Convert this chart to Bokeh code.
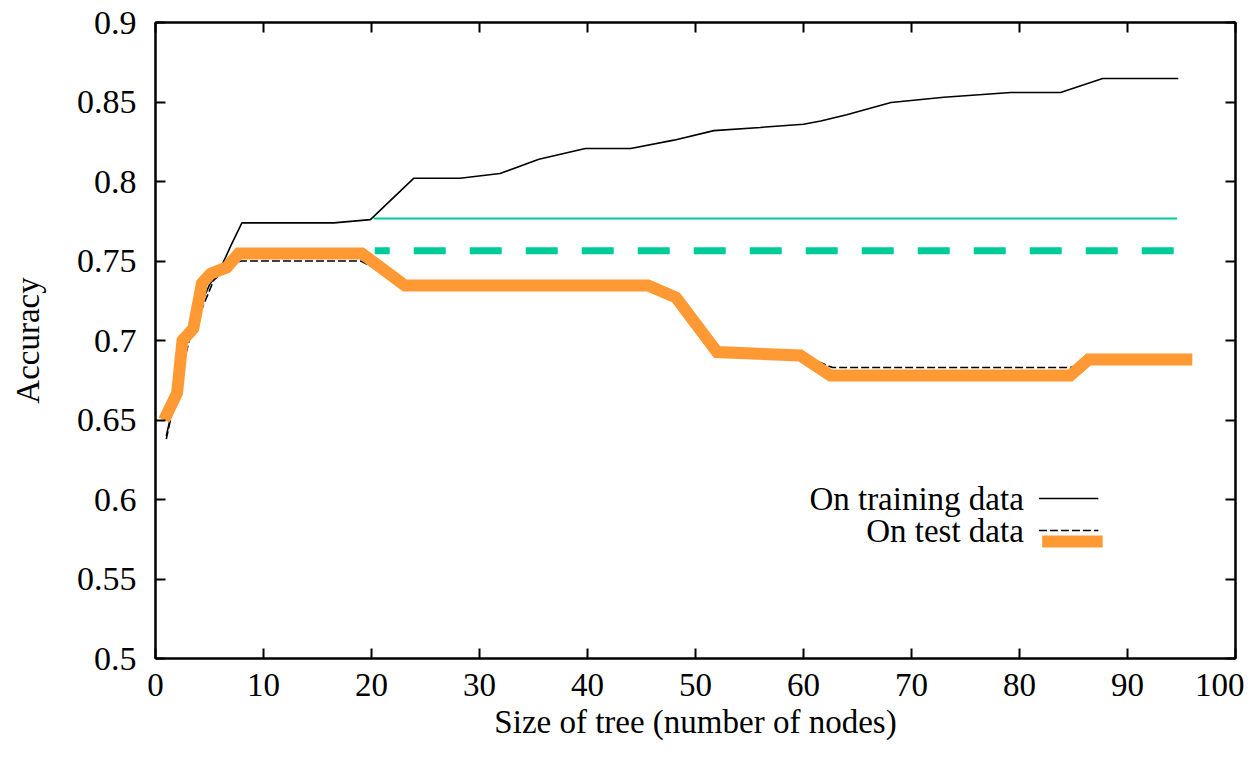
from bokeh.plotting import figure
from bokeh.models import (Range1d, LinearAxis, FixedTicker, CustomJSTickFormatter, Label)
from bokeh.embed import file_html
from bokeh.resources import INLINE

# ---- data ----
train_x = [1, 2, 3, 4, 5, 6, 7, 8, 16.5, 19.9, 23.9, 28.2, 31.9, 35.5, 39.8, 44, 48,
           51.7, 56, 60, 61.6, 64, 68.1, 73, 79.2, 83.8, 87.7, 94.7]
train_y = [0.64, 0.67, 0.70, 0.72, 0.735, 0.745, 0.76, 0.774, 0.774, 0.776, 0.802, 0.802,
           0.805, 0.814, 0.8208, 0.8208, 0.826, 0.832, 0.834, 0.836, 0.838, 0.842, 0.8497,
           0.853, 0.856, 0.856, 0.8648, 0.8648]

test_x = [1, 2, 3.2, 4.3, 5.4, 6.5, 7.9, 19, 23.3, 45.6, 48.2, 52, 59.7, 62.7, 84.7, 86.5, 95.8]
test_y = [0.638, 0.67, 0.702, 0.72, 0.738, 0.745, 0.75, 0.75, 0.735, 0.735, 0.727, 0.693,
          0.691, 0.683, 0.683, 0.687, 0.687]

pruned_x = [0.8, 2.0, 2.5, 3.5, 4.3, 5.1, 6.6, 7.7, 19.1, 23.1, 45.6, 48.2, 52, 59.7, 62.5,
            84.7, 86.4, 96.0]
pruned_y = [0.650, 0.667, 0.700, 0.7075, 0.736, 0.742, 0.746, 0.7547, 0.7547, 0.7346, 0.7346,
            0.727, 0.6927, 0.6906, 0.678, 0.678, 0.688, 0.688]

ref_train_x = [20.2, 94.6]
ref_train_y = [0.7767, 0.7767]
ref_test_x = [20.3, 94.6]
ref_test_y = [0.7565, 0.7565]

x_ticks = [0, 10, 20, 30, 40, 50, 60, 70, 80, 90, 100]
y_ticks = [0.5, 0.55, 0.6, 0.65, 0.7, 0.75, 0.8, 0.85, 0.9]

x_title = "Size of tree (number of nodes)"
y_title = "Accuracy"
legend_labels = ["On training data", "On test data"]

FONT = "Liberation Serif"
FS = "33px"
FS_Y = "34px"
GREEN = "#00cc99"
ORANGE = "#ff9933"

p = figure(width=1244, height=742, output_backend="svg", toolbar_location=None,
           x_range=Range1d(0, 100), y_range=Range1d(0.5, 0.9),
           min_border_left=155, min_border_right=9, min_border_top=22, min_border_bottom=84)
p.background_fill_color = "white"
p.border_fill_color = "white"
p.outline_line_color = "black"
p.outline_line_width = 2
p.grid.visible = False

fmt = CustomJSTickFormatter(code="return (Math.round(tick*100)/100).toString();")

p.xaxis.ticker = FixedTicker(ticks=x_ticks)
p.yaxis.ticker = FixedTicker(ticks=y_ticks)
p.yaxis.formatter = fmt
for ax in (p.xaxis[0], p.yaxis[0]):
    ax.major_tick_in = 10
    ax.major_tick_out = 0
    ax.major_tick_line_width = 2
    ax.minor_tick_line_color = None
    ax.axis_line_width = 2
    ax.major_label_text_font = FONT
    ax.major_label_text_color = "black"
    ax.axis_label_text_font = FONT
    ax.axis_label_text_font_size = FS
    ax.axis_label_text_font_style = "normal"
    ax.axis_label_text_color = "black"

p.xaxis.major_label_text_font_size = FS
p.yaxis.major_label_text_font_size = FS_Y
p.yaxis.axis_label = y_title
p.xaxis.axis_label = x_title
p.xaxis.major_label_standoff = 15
p.xaxis.axis_label_standoff = 5
p.yaxis.major_label_standoff = 19
p.yaxis.axis_label_standoff = 28

blank = CustomJSTickFormatter(code="return '';")
top_ax = LinearAxis(ticker=FixedTicker(ticks=x_ticks), formatter=blank,
                    major_label_text_font_size="1px", major_label_text_color=None,
                    major_tick_in=10, major_tick_out=0, major_tick_line_width=2,
                    minor_tick_line_color=None, axis_line_width=2, major_label_standoff=0)
right_ax = LinearAxis(ticker=FixedTicker(ticks=y_ticks), formatter=blank,
                      major_label_text_font_size="1px", major_label_text_color=None,
                      major_tick_in=10, major_tick_out=0, major_tick_line_width=2,
                      minor_tick_line_color=None, axis_line_width=2, major_label_standoff=0)
p.add_layout(top_ax, "above")
p.add_layout(right_ax, "right")

# reference lines (green)
p.line(ref_train_x, ref_train_y, line_color=GREEN, line_width=2)
p.line(ref_test_x, ref_test_y, line_color=GREEN, line_width=7,
       line_dash="32 24", line_dash_offset=17)

# training / test curves
p.line(train_x, train_y, line_color="black", line_width=1.6)
p.line(test_x, test_y, line_color="black", line_width=1.6, line_dash="8 3")
p.line(pruned_x, pruned_y, line_color=ORANGE, line_width=12, line_join="miter")

# legend (gnuplot style: text then sample)
leg_text_x = 80.4
leg_y = [0.6006, 0.5805]
leg_sample_x = [81.8, 87.3]
for lab, yy in zip(legend_labels, leg_y):
    p.add_layout(Label(x=leg_text_x, y=yy, text=lab, text_align="right",
                       text_baseline="middle", text_font=FONT, text_font_size=FS,
                       text_color="black"))
p.line(leg_sample_x, [leg_y[0], leg_y[0]], line_color="black", line_width=1.6)
p.line([82.1, 87.7], [0.5736, 0.5736], line_color=ORANGE, line_width=12)
p.line(leg_sample_x, [leg_y[1], leg_y[1]], line_color="black", line_width=1.6, line_dash="8 3")

open("out.html", "w").write(file_html(p, INLINE))
